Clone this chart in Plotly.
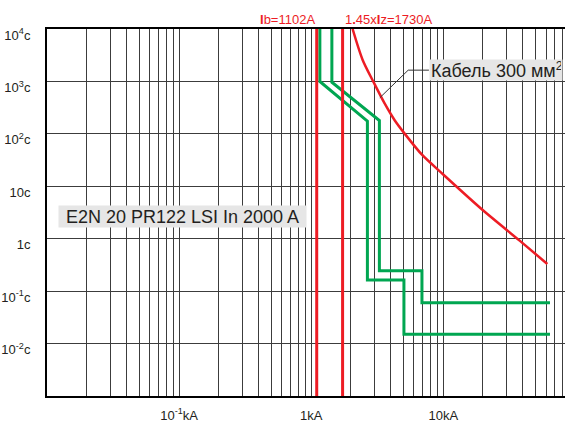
import numpy as np
import plotly.graph_objects as go

# ---- data (current in kA, time in s) ----
ib_ka = 1.102          # Ib = 1102 A
iz145_ka = 1.730       # 1.45 x Iz = 1730 A

# breaker curves (two tolerance bands)
g1_x = [1.164, 1.164, 2.666, 2.666, 5.04, 5.04, 64.3]
g1_t = [1e4, 1000, 175, 0.163, 0.163, 0.0151, 0.0151]
g2_x = [1.435, 1.435, 3.286, 3.286, 6.90, 6.90, 64.3]
g2_t = [1e4, 963, 180, 0.245, 0.245, 0.0603, 0.0603]

# cable withstand curve
cab_x = [2.06, 2.45, 2.95, 3.6, 4.3, 5.12, 6.9, 10.0, 20.1, 38.1, 61.4]
cab_t = [1e4, 2600, 1000, 380, 180, 100, 40, 16.8, 3.45, 0.91, 0.33]

# axis ticks
x_tickvals = [0.1, 1, 10]
x_ticktext = ["10<sup>-1</sup>kA", "1kA", "10kA"]
y_tickvals = [1e-2, 1e-1, 1, 10, 100, 1000, 1e4]
y_ticktext = ["10<sup>-2</sup>с", "10<sup>-1</sup>с", "1с", "10с",
              "10<sup>2</sup>с", "10<sup>3</sup>с", "10<sup>4</sup>с"]

# label anchors (data units)
cable_label_pos = (7.79, 1641)
cable_leader_x = [7.79, 5.43, 3.31]
cable_leader_t = [1641, 1641, 488]
breaker_label_pos = (0.01212, 2.61)

RED = "#ed1c24"
GREEN = "#00a651"
TXT = "#231f20"
GRID = "#3c3c3c"
FONT = "Liberation Sans, Arial, sans-serif"

fig = go.Figure()
for gx, gt in [(g1_x, g1_t), (g2_x, g2_t)]:
    fig.add_trace(go.Scatter(x=gx, y=gt, mode="lines",
                             line=dict(color=GREEN, width=3),
                             hoverinfo="skip", showlegend=False))
for xv in [ib_ka, iz145_ka]:
    fig.add_trace(go.Scatter(x=[xv, xv], y=[1e-3, 1e4], mode="lines",
                             line=dict(color=RED, width=3),
                             hoverinfo="skip", showlegend=False))
fig.add_trace(go.Scatter(x=cab_x, y=cab_t, mode="lines",
                         line=dict(color=RED, width=2.5, shape="spline", smoothing=0.8),
                         hoverinfo="skip", showlegend=False))
fig.add_trace(go.Scatter(x=cable_leader_x, y=cable_leader_t, mode="lines",
                         line=dict(color="#333333", width=1),
                         hoverinfo="skip", showlegend=False))

annotations = [
    dict(x=np.log10(ib_ka), y=1, xref="x", yref="paper", xanchor="right",
         yanchor="bottom", showarrow=False, text="<b>I</b>b=1102A",
         font=dict(color=RED, size=13, family=FONT)),
    dict(x=np.log10(iz145_ka), y=1, xref="x", yref="paper", xanchor="left",
         yanchor="bottom", showarrow=False, text="1<b>.</b>45x<b>I</b>z=1730A",
         font=dict(color=RED, size=13, family=FONT)),
    dict(x=np.log10(cable_label_pos[0]), y=np.log10(cable_label_pos[1]),
         xref="x", yref="y", xanchor="left", yanchor="middle", showarrow=False,
         text="Кабель 300 мм<sup>2</sup>", bgcolor="#e6e6e6",
         width=130, height=18, borderpad=1, align="left",
         font=dict(color=TXT, size=18, family=FONT)),
    dict(x=np.log10(breaker_label_pos[0]), y=np.log10(breaker_label_pos[1]),
         xref="x", yref="y", xanchor="left", yanchor="middle", showarrow=False,
         text="E2N 20 PR122 LSI In 2000 A", bgcolor="#e6e6e6",
         width=245, height=19, borderpad=1, align="center",
         font=dict(color=TXT, size=18, family=FONT)),
]

fig.update_layout(
    width=565, height=423,
    margin=dict(l=47, r=0, t=29, b=22),
    paper_bgcolor="white", plot_bgcolor="white",
    font=dict(family=FONT, color=TXT, size=13),
    showlegend=False,
    annotations=annotations,
)
fig.update_xaxes(
    type="log", range=[-2, -2 + (565 - 47.3) / 132],
    tickvals=x_tickvals, ticktext=x_ticktext, ticks="",
    tickfont=dict(size=13, color=TXT),
    showgrid=True, gridcolor=GRID, gridwidth=1,
    minor=dict(dtick="D1", showgrid=True, gridcolor=GRID, gridwidth=1, ticks=""),
    showline=True, linecolor="black", linewidth=2, mirror=True,
    zeroline=False, ticklabelstandoff=6,
)
fig.update_yaxes(
    type="log", range=[-3, 4],
    tickvals=y_tickvals, ticktext=y_ticktext, ticks="",
    tickfont=dict(size=13, color=TXT),
    showgrid=True, gridcolor=GRID, gridwidth=1,
    showline=True, linecolor="black", linewidth=2,
    zeroline=False, ticklabelstandoff=12, ticklabelshift=6,
)

fig.write_html(
    "out.html",
    config={"displayModeBar": False},
    post_script="document.body.style.margin='0px';"
                "document.body.style.overflow='hidden';",
)
